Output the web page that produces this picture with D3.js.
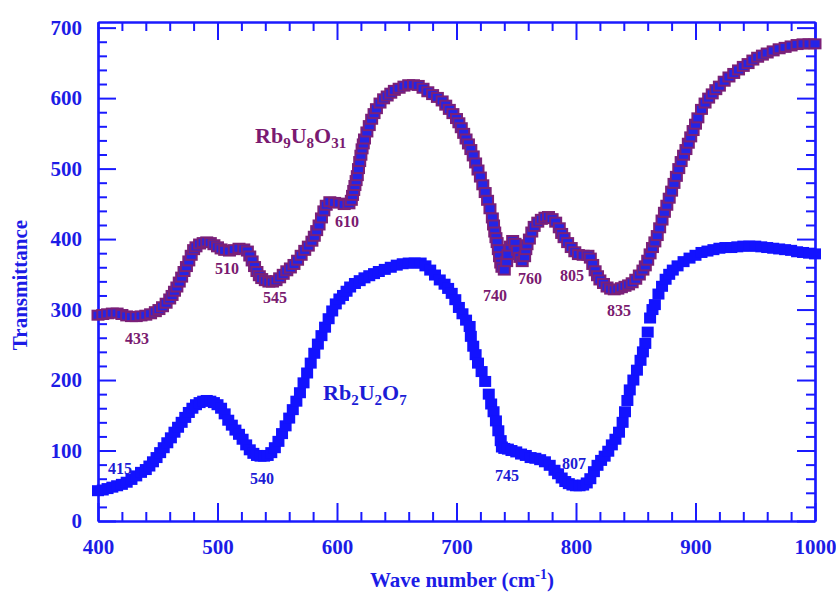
<!DOCTYPE html>
<html>
<head>
<meta charset="utf-8">
<script src="https://cdn.jsdelivr.net/npm/d3@7"></script>
<style>
  html, body { margin: 0; padding: 0; background: #ffffff; }
  svg { display: block; }
  text { font-family: "Liberation Serif", "Times New Roman", serif; font-weight: bold; }
</style>
</head>
<body>
<svg id="chart" width="836" height="594"></svg>
<script>
// ---- Data: [wave number, transmittance] ----
const rb2U2O7 = [[400,43],[404,44],[408,46],[412,48],[416,50],[420,52],[424,55],[428,59],[432,64],[436,69],[440,73],[443,78],[446,84],[449,90],[452,97],[455,104],[458,111],[461,118],[464,126],[467,133],[470,140],[473,147],[476,154],[479,160],[482,165],[485,168],[488,170],[491,171],[494,170],[497,168],[500,165],[503,160],[506,152],[509,143],[512,136],[515,129],[518,123],[521,116],[524,108],[527,101],[530,96],[533,93],[536,92],[539,92],[542,93],[545,97],[548,104],[551,113],[554,124],[557,135],[560,146],[563,158],[566,170],[569,182],[572,196],[575,210],[578,224],[581,238],[584,251],[587,263],[590,275],[593,287],[596,298],[599,308],[602,315],[605,320],[608,326],[611,332],[615,337],[619,341],[623,345],[627,348],[631,351],[635,354],[640,357],[645,360],[650,363],[655,365],[660,366],[665,366],[670,366],[674,362],[678,356],[682,349],[686,342],[690,336],[693,330],[696,323],[699,314],[702,303],[705,294],[708,285],[711,276],[712,262],[714,248],[716,236],[718,224],[721,212],[724,198],[727,180],[729,166],[731,155],[733,142],[735,128],[737,114],[738,105],[740,103],[743,102],[746,100],[750,98],[754,95],[758,93],[762,90],[766,89],[770,87],[774,84],[778,79],[782,72],[785,67],[788,61],[791,56],[794,53],[797,51],[800,50],[803,50],[806,51],[809,54],[812,60],[815,70],[818,79],[821,86],[824,92],[827,99],[830,108],[833,116],[836,126],[839,140],[841,155],[843,171],[845,186],[848,200],[851,214],[854,228],[856,240],[858,252],[860,268],[862,288],[864,300],[866,307],[869,322],[872,333],[875,343],[878,350],[881,356],[885,362],[890,368],[895,373],[900,377],[905,381],[910,383],[915,385],[920,387],[925,388],[930,388],[935,389],[940,390],[945,390],[950,390],[955,389],[960,388],[965,387],[970,386],[975,385],[980,384],[985,382],[990,381],[995,380],[1000,379]];

const rb9U8O31 = [[400,292],[404,293],[408,294],[412,295],[416,295],[420,293],[424,291],[428,290],[432,290],[436,291],[440,292],[444,294],[448,297],[451,300],[454,304],[457,309],[460,315],[462,320],[464,326],[466,332],[468,339],[470,346],[472,354],[474,361],[476,369],[478,377],[480,385],[482,389],[485,393],[488,395],[491,396],[494,395],[497,392],[500,389],[503,386],[506,384],[510,383],[514,385],[518,387],[522,386],[525,383],[527,376],[529,369],[531,361],[533,354],[535,348],[537,344],[540,341],[543,339],[546,339],[549,341],[552,345],[555,350],[558,355],[561,359],[564,364],[567,370],[570,377],[573,384],[576,390],[579,397],[581,404],[583,412],[585,420],[587,430],[589,440],[591,448],[594,453],[598,452],[602,451],[606,449],[610,450],[612,455],[613,462],[614,469],[615,476],[616,483],[617,490],[618,500],[619,510],[620,519],[621,528],[622,535],[623,542],[625,552],[627,561],[629,570],[631,578],[633,585],[636,593],[639,599],[642,603],[645,607],[648,611],[652,614],[656,617],[660,619],[664,619],[668,618],[672,614],[676,609],[680,605],[684,601],[688,596],[691,590],[694,584],[697,578],[700,571],[702,565],[704,558],[706,550],[708,542],[710,535],[712,527],[714,518],[716,508],[718,498],[720,488],[722,477],[724,466],[726,455],[728,443],[730,430],[731,420],[732,410],[733,402],[734,395],[735,385],[736,375],[737,366],[738,360],[740,356],[742,368],[743,378],[745,390],[747,398],[749,394],[751,384],[753,374],[755,368],[757,375],[758,385],[759,392],[761,400],[763,410],[765,418],[768,424],[771,428],[774,431],[777,432],[780,429],[783,424],[786,416],[788,408],[790,402],[793,395],[796,388],[799,382],[802,378],[806,377],[810,377],[812,373],[814,364],[816,355],[818,348],[820,342],[823,337],[826,332],[829,329],[832,328],[835,329],[838,331],[841,333],[844,335],[847,338],[850,343],[853,349],[856,356],[858,362],[860,370],[862,379],[864,388],[866,396],[868,405],[870,416],[872,427],[874,438],[876,448],[878,458],[880,468],[882,479],[884,489],[886,500],[888,510],[890,519],[892,527],[894,536],[896,545],[898,554],[900,563],[902,572],[905,584],[908,593],[911,600],[914,606],[917,612],[920,617],[924,624],[928,630],[932,635],[936,640],[940,645],[944,649],[948,654],[952,658],[956,661],[960,664],[965,667],[970,670],[975,672],[980,674],[985,676],[990,677],[995,677],[1000,677]];

const xTicksMajor = [400,500,600,700,800,900,1000];
const yTicksMajor = [0,100,200,300,400,500,600,700];

const rb9Labels = ["433","510","545","610","740","760","805","835"];
const rb2Labels = ["415","540","745","807"];

// ---- Layout ----
const mLeft = 98, mRight = 815, mTop = 22, mBottom = 521;
const AXIS = "#1a1aff", TXT = "#1c1ce6", BLUE_TXT = "#1c1cd6", PURPLE = "#7a1a70", PURPLE_MK = "#7b2078";

const svg = d3.select("#chart");
const x = d3.scaleLinear().domain([400, 1000]).range([mLeft, mRight]);
const y = d3.scaleLinear().domain([0, 708]).range([mBottom, mTop]);

const xMinor = d3.range(400, 1001, 20).filter(v => v % 100 !== 0);
const yMinor = d3.range(0, 701, 20).filter(v => v % 100 !== 0);

function styleAxis(g) {
  g.select(".domain").attr("stroke", AXIS).attr("stroke-width", 2.2);
  g.selectAll(".tick line").attr("stroke", AXIS).attr("stroke-width", 2);
  g.selectAll(".tick text").attr("fill", TXT).style("font-size", "21px")
    .style("font-family", '"Liberation Serif", "Times New Roman", serif').style("font-weight", "bold");
}

// Bottom
svg.append("g").attr("transform", `translate(0,${mBottom})`)
  .call(d3.axisBottom(x).tickValues(xMinor).tickSizeInner(-9).tickSizeOuter(0).tickFormat(""))
  .call(styleAxis);
svg.append("g").attr("transform", `translate(0,${mBottom})`)
  .call(d3.axisBottom(x).tickValues(xTicksMajor).tickSizeInner(-18).tickSizeOuter(0).tickPadding(18).tickFormat(d3.format("d")))
  .call(styleAxis);
// Top
svg.append("g").attr("transform", `translate(0,${mTop})`)
  .call(d3.axisTop(x).tickValues(xMinor).tickSizeInner(-9).tickSizeOuter(0).tickFormat(""))
  .call(styleAxis);
svg.append("g").attr("transform", `translate(0,${mTop})`)
  .call(d3.axisTop(x).tickValues(xTicksMajor).tickSizeInner(-18).tickSizeOuter(0).tickFormat(""))
  .call(styleAxis);
// Left
svg.append("g").attr("transform", `translate(${mLeft},0)`)
  .call(d3.axisLeft(y).tickValues(yMinor).tickSizeInner(-9).tickSizeOuter(0).tickFormat(""))
  .call(styleAxis);
svg.append("g").attr("transform", `translate(${mLeft},0)`)
  .call(d3.axisLeft(y).tickValues(yTicksMajor).tickSizeInner(-18).tickSizeOuter(0).tickPadding(16).tickFormat(d3.format("d")))
  .call(styleAxis);
// Right
svg.append("g").attr("transform", `translate(${mRight},0)`)
  .call(d3.axisRight(y).tickValues(yMinor).tickSizeInner(-9).tickSizeOuter(0).tickFormat(""))
  .call(styleAxis);
svg.append("g").attr("transform", `translate(${mRight},0)`)
  .call(d3.axisRight(y).tickValues(yTicksMajor).tickSizeInner(-18).tickSizeOuter(0).tickFormat(""))
  .call(styleAxis);

// ---- Series ----
svg.append("g").selectAll("rect").data(rb2U2O7).join("rect")
  .attr("x", d => x(d[0]) - 6).attr("y", d => y(d[1]) - 5.5)
  .attr("width", 12).attr("height", 11)
  .attr("fill", "#1212ff");

svg.append("g").selectAll("rect").data(rb9U8O31).join("rect")
  .attr("x", d => x(d[0]) - 5.5).attr("y", d => y(d[1]) - 4.5)
  .attr("width", 11).attr("height", 9)
  .attr("fill", "#2424e6").attr("stroke", PURPLE_MK).attr("stroke-width", 2);

// ---- Annotations ----
const rb9Pos = {"433":[137,338], "510":[227,268], "545":[275,297], "610":[347,221], "740":[495,295], "760":[530,278], "805":[572,275], "835":[619,310]};
svg.append("g").selectAll("text").data(rb9Labels).join("text")
  .attr("x", d => rb9Pos[d][0]).attr("y", d => rb9Pos[d][1] + 5.5)
  .attr("text-anchor", "middle").attr("fill", PURPLE).style("font-size", "16px")
  .text(d => d);

const rb2Pos = {"415":[120,468], "540":[262,478], "745":[507,475], "807":[574,463]};
svg.append("g").selectAll("text").data(rb2Labels).join("text")
  .attr("x", d => rb2Pos[d][0]).attr("y", d => rb2Pos[d][1] + 5.5)
  .attr("text-anchor", "middle").attr("fill", BLUE_TXT).style("font-size", "16px")
  .text(d => d);

function formula(parts, xPos, yPos, color) {
  const t = svg.append("text").attr("x", xPos).attr("y", yPos).attr("fill", color).style("font-size", "22px");
  let shifted = false;
  parts.forEach(p => {
    const ts = t.append("tspan").text(p[0]);
    if (p[1]) {
      ts.attr("dy", shifted ? 0 : 5).style("font-size", "15px");
      shifted = true;
    } else {
      if (shifted) ts.attr("dy", -5);
      shifted = false;
    }
  });
}
formula([["Rb",0],["9",1],["U",0],["8",1],["O",0],["31",1]], 255, 143, PURPLE);
formula([["Rb",0],["2",1],["U",0],["2",1],["O",0],["7",1]], 323, 400, BLUE_TXT);

// ---- Axis titles ----
svg.append("text").attr("transform", "translate(27,285) rotate(-90)")
  .attr("text-anchor", "middle").attr("fill", TXT).style("font-size", "21px")
  .text("Transmittance");

const xt = svg.append("text").attr("x", 462).attr("y", 587)
  .attr("text-anchor", "middle").attr("fill", TXT).style("font-size", "21px");
xt.append("tspan").text("Wave number (cm");
xt.append("tspan").attr("dy", -8).style("font-size", "14px").text("-1");
xt.append("tspan").attr("dy", 8).text(")");
</script>
</body>
</html>
